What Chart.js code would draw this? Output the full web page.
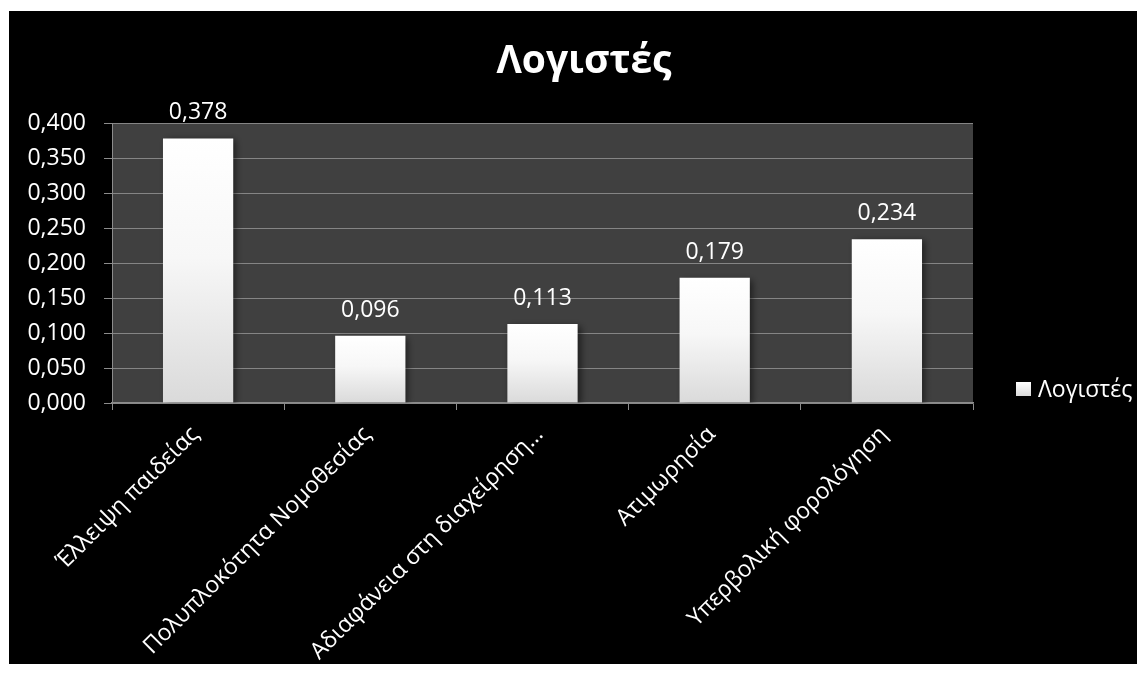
<!DOCTYPE html>
<html lang="el">
<head>
<meta charset="utf-8">
<title>Λογιστές</title>
<script src="https://cdn.jsdelivr.net/npm/chart.js@4/dist/chart.umd.min.js"></script>
<style>
  html, body { margin: 0; padding: 0; background: #fff; }
  #wrap {
    position: absolute; left: 9px; top: 11px;
    width: 1128px; height: 653px; background: #000;
  }
</style>
</head>
<body>
<div id="wrap"><canvas id="chart" width="1128" height="653"></canvas></div>
<script>
// Bar chart "Λογιστές" — white gradient bars on a dark plot area.

const TITLE = 'Λογιστές';
const SERIES_NAME = 'Λογιστές';
const categories = [
  'Έλλειψη παιδείας',
  'Πολυπλοκότητα Νομοθεσίας',
  'Αδιαφάνεια στη διαχείρηση…',
  'Ατιμωρησία',
  'Υπερβολική φορολόγηση',
];
const values = [0.378, 0.096, 0.113, 0.179, 0.234];
const yTicks = { min: 0, max: 0.4, step: 0.05 };

const FONT = 'Open Sans';
const COLORS = {
  plot: '#404040',
  grid: '#858585',
  axis: '#8c8c8c',
  text: '#ffffff',
  barTop: '#ffffff',
  barBottom: '#dadada',
};

const fmt = (v, d) => v.toFixed(d).replace('.', ',');

function barGradient(ctx) {
  const chart = ctx.chart;
  const y = chart.scales.y;
  if (!chart.chartArea || !y) return COLORS.barTop;
  const top = y.getPixelForValue(ctx.raw ?? 0);
  const bottom = y.getPixelForValue(0);
  const g = chart.ctx.createLinearGradient(0, top, 0, bottom);
  g.addColorStop(0, COLORS.barTop);
  g.addColorStop(0.45, '#f7f7f7');
  g.addColorStop(1, COLORS.barBottom);
  return g;
}

// dark fill behind the plot area
const plotBackground = {
  id: 'plotBackground',
  beforeDraw(chart) {
    const { ctx, chartArea: a } = chart;
    ctx.save();
    ctx.fillStyle = COLORS.plot;
    ctx.fillRect(a.left, a.top, a.right - a.left, a.bottom - a.top);
    ctx.restore();
  },
};

// soft shadow on the bars
const barShadow = {
  id: 'barShadow',
  beforeDatasetDraw(chart) {
    const ctx = chart.ctx;
    ctx.save();
    ctx.shadowColor = 'rgba(0,0,0,0.55)';
    ctx.shadowBlur = 7;
    ctx.shadowOffsetX = 3;
    ctx.shadowOffsetY = 2;
  },
  afterDatasetDraw(chart) {
    chart.ctx.restore();
  },
};

// value labels above bars, title and legend
const decorations = {
  id: 'decorations',
  afterDraw(chart) {
    const { ctx } = chart;
    ctx.save();
    ctx.fillStyle = COLORS.text;

    // value labels
    ctx.font = `23px "${FONT}"`;
    ctx.textAlign = 'center';
    ctx.textBaseline = 'alphabetic';
    const meta = chart.getDatasetMeta(0);
    meta.data.forEach((bar, i) => {
      ctx.fillText(fmt(values[i], 3), bar.x, bar.y - 19);
    });

    // title
    ctx.font = `bold 39px "${FONT}"`;
    ctx.fillText(TITLE, 575, 62);

    // legend
    const lx = 1007, ly = 371;
    const g = ctx.createLinearGradient(0, ly, 0, ly + 14);
    g.addColorStop(0, COLORS.barTop);
    g.addColorStop(1, COLORS.barBottom);
    ctx.fillStyle = g;
    ctx.fillRect(lx, ly, 15, 14);
    ctx.fillStyle = COLORS.text;
    ctx.font = `23px "${FONT}"`;
    ctx.textAlign = 'left';
    ctx.textBaseline = 'middle';
    ctx.fillText(SERIES_NAME, lx + 22, ly + 8);
    ctx.restore();
  },
};

new Chart(document.getElementById('chart'), {
  type: 'bar',
  data: {
    labels: categories,
    datasets: [{
      label: SERIES_NAME,
      data: values,
      backgroundColor: barGradient,
      borderWidth: 0,
      categoryPercentage: 1,
      barPercentage: 0.408,
    }],
  },
  options: {
    responsive: false,
    animation: false,
    layout: { padding: { top: 112, right: 164, left: 0, bottom: 0 } },
    plugins: {
      legend: { display: false },
      title: { display: false },
      tooltip: { enabled: false },
    },
    scales: {
      x: {
        afterFit: (s) => { s.height = 261; },
        grid: {
          offset: true,
          drawOnChartArea: false,
          drawTicks: true,
          tickLength: 7,
          tickColor: COLORS.axis,
        },
        border: { color: COLORS.axis, width: 1.5 },
        ticks: {
          color: COLORS.text,
          font: { family: FONT, size: 23 },
          minRotation: 45,
          maxRotation: 45,
          autoSkip: false,
          padding: 11,
          labelOffset: -3,
        },
      },
      y: {
        min: yTicks.min,
        max: yTicks.max,
        afterFit: (s) => { s.width = 103; },
        grid: {
          color: COLORS.grid,
          lineWidth: 1,
          drawTicks: true,
          tickLength: 8,
          tickColor: COLORS.axis,
        },
        border: { color: COLORS.axis, width: 1 },
        ticks: {
          stepSize: yTicks.step,
          color: COLORS.text,
          font: { family: FONT, size: 23 },
          padding: 18,
          callback: (v) => fmt(v, 3),
        },
      },
    },
  },
  plugins: [plotBackground, barShadow, decorations],
});
</script>
</body>
</html>
